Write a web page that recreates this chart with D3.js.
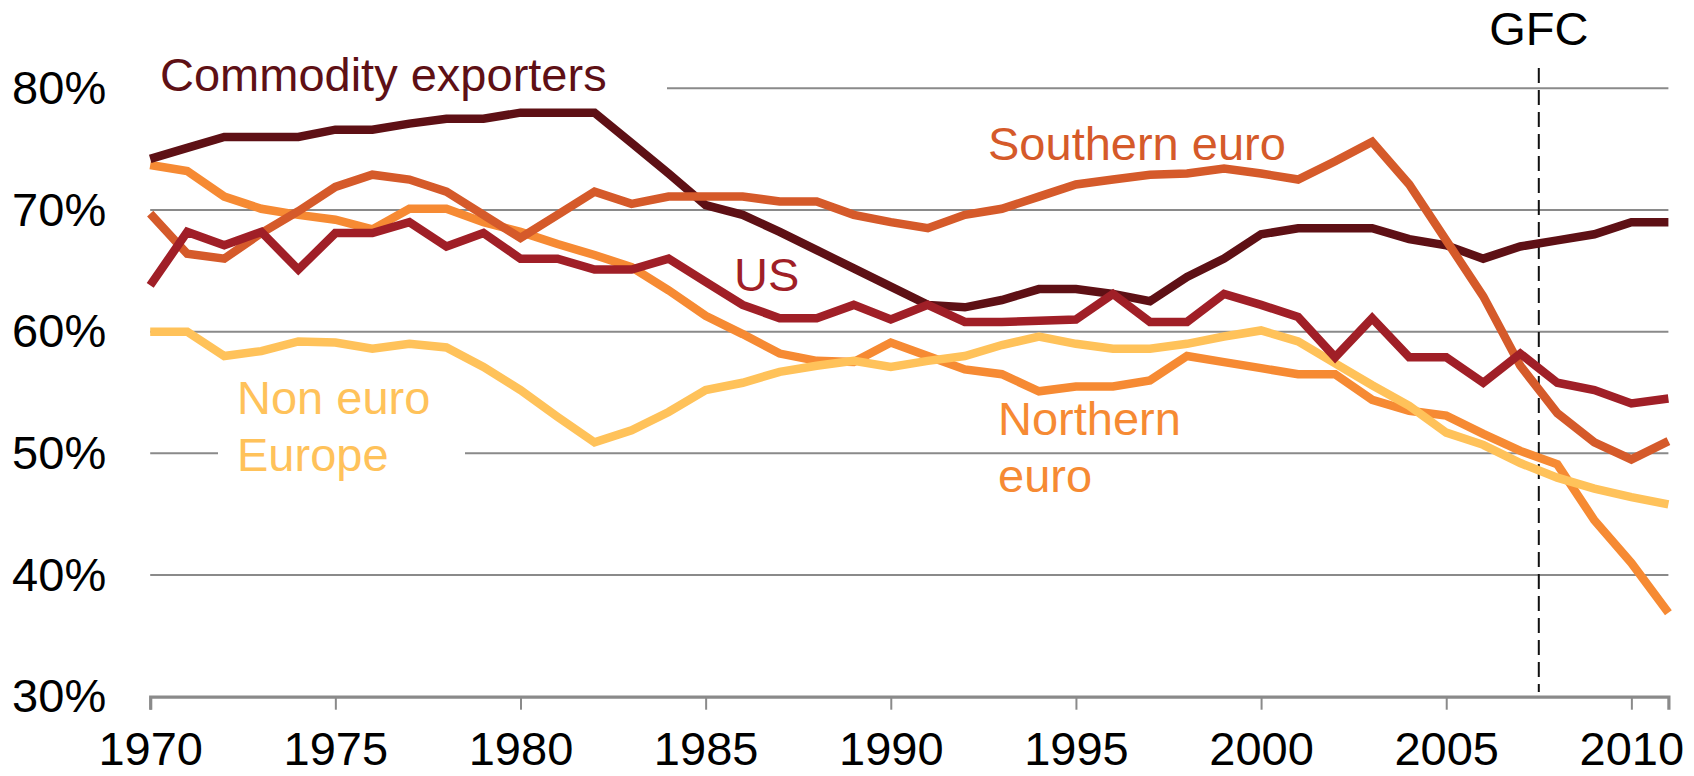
<!DOCTYPE html>
<html>
<head>
<meta charset="utf-8">
<script src="https://cdn.jsdelivr.net/npm/d3@7"></script>
<style>
  html, body { margin: 0; padding: 0; background: #ffffff; }
  svg { display: block; font-family: "Liberation Sans", Arial, sans-serif; }
</style>
</head>
<body>
<svg id="chart" width="1694" height="776"></svg>
<script>
const years = d3.range(1970, 2012);
const yTicks = [30, 40, 50, 60, 70, 80];
const xTicks = [1970, 1975, 1980, 1985, 1990, 1995, 2000, 2005, 2010];

const commodityExporters = [74.2,75.1,76.0,76.0,76.0,76.6,76.6,77.1,77.5,77.5,78.0,78.0,78.0,
  75.5,73.0,70.4,69.6,68.2,66.7,65.2,63.7,62.2,62.0,62.6,63.5,63.5,63.1,62.5,
  64.5,66.0,68.0,68.5,68.5,68.5,67.6,67.1,66.0,67.0,67.5,68.0,69.0,69.0];
const southernEuro = [69.7,66.4,66.0,68.1,69.9,71.9,72.9,72.5,71.5,69.6,67.7,69.6,71.5,
  70.5,71.1,71.1,71.1,70.7,70.7,69.6,69.0,68.5,69.6,70.1,71.1,72.1,72.5,72.9,
  73.0,73.4,73.0,72.5,74.0,75.6,72.1,67.5,62.9,57.2,53.3,50.9,49.5,51.0];
const us = [63.8,68.2,67.1,68.2,65.1,68.1,68.1,69.0,67.0,68.1,66.0,66.0,65.1,
  65.1,66.0,64.1,62.2,61.1,61.1,62.2,61.0,62.2,60.8,60.8,60.9,61.0,63.1,60.8,
  60.8,63.1,62.2,61.2,57.9,61.1,57.9,57.9,55.8,58.2,55.8,55.2,54.1,54.5];
const northernEuro = [73.7,73.2,71.1,70.1,69.6,69.2,68.4,70.1,70.1,69.0,68.2,67.2,66.3,
  65.3,63.4,61.3,59.8,58.2,57.6,57.5,59.1,58.0,56.9,56.5,55.1,55.5,55.5,56.0,
  58.0,57.5,57.0,56.5,56.5,54.4,53.5,53.1,51.6,50.2,49.1,44.5,41.0,36.9];
const nonEuroEurope = [60.0,60.0,58.0,58.4,59.2,59.1,58.6,59.0,58.7,57.1,55.2,53.0,50.9,
  51.9,53.4,55.2,55.8,56.7,57.2,57.6,57.1,57.6,58.0,58.9,59.6,59.0,58.6,58.6,
  59.0,59.6,60.1,59.2,57.4,55.6,53.9,51.7,50.7,49.2,48.0,47.1,46.4,45.8];
const gfcYear = 2007.5;

// drawing order bottom -> top
const series = [
  { name: "Northern euro", values: northernEuro, color: "#f68a33" },
  { name: "Non euro Europe", values: nonEuroEurope, color: "#ffc25a" },
  { name: "Commodity exporters", values: commodityExporters, color: "#5e1015" },
  { name: "Southern euro", values: southernEuro, color: "#d55a2a" },
  { name: "US", values: us, color: "#a01f27" }
];

const svg = d3.select("#chart");
const FS = 47;
const x = d3.scaleLinear().domain([1970, 2011]).range([150.2, 1668.4]);
const y = d3.scaleLinear().domain([30, 80]).range([696.7, 88.3]);

// gridlines
svg.append("g").selectAll("line")
  .data(yTicks.filter(d => d > 30))
  .join("line")
  .attr("x1", x(1970)).attr("x2", x(2011))
  .attr("y1", d => y(d)).attr("y2", d => y(d))
  .attr("stroke", "#8a8a8a").attr("stroke-width", 2);

// white label boxes (interrupt gridlines)
svg.append("rect").attr("x", 150).attr("y", 40).attr("width", 517).attr("height", 68).attr("fill", "#fff");
svg.append("rect").attr("x", 218).attr("y", 372).attr("width", 247).attr("height", 113).attr("fill", "#fff");

// x axis
const xAxis = d3.axisBottom(x).tickValues(xTicks).tickFormat(d3.format("d"))
  .tickSize(13).tickPadding(22);
const gx = svg.append("g").attr("transform", `translate(0,${y(30)})`).call(xAxis);
gx.select(".domain").attr("stroke", "#8a8a8a").attr("stroke-width", 3.2);
gx.selectAll(".tick line").attr("stroke", "#8a8a8a").attr("stroke-width", 2);
gx.selectAll(".tick text").attr("fill", "#000").style("font-size", FS + "px")
  .style("font-family", "'Liberation Sans', Arial, sans-serif");

// y axis labels
const yAxis = d3.axisLeft(y).tickValues(yTicks).tickFormat(d => d + "%")
  .tickSize(0).tickPadding(44);
const gy = svg.append("g").attr("transform", `translate(${x(1970)},0)`).call(yAxis);
gy.select(".domain").remove();
gy.selectAll(".tick text").attr("fill", "#000").style("font-size", FS + "px")
  .style("font-family", "'Liberation Sans', Arial, sans-serif");

// GFC dashed line
svg.append("line")
  .attr("x1", x(gfcYear)).attr("x2", x(gfcYear))
  .attr("y1", 68).attr("y2", 692)
  .attr("stroke", "#111").attr("stroke-width", 2)
  .attr("stroke-dasharray", "15,7");

// series lines
const line = d3.line().x((d, i) => x(years[i])).y(d => y(d));
svg.append("g").selectAll("path")
  .data(series)
  .join("path")
  .attr("d", d => line(d.values))
  .attr("fill", "none")
  .attr("stroke", d => d.color)
  .attr("stroke-width", 8.5)
  .attr("stroke-linejoin", "miter");

// labels
const labels = [
  { lines: ["Commodity exporters"], x: 160, y: 91, color: "#5e1015" },
  { lines: ["Southern euro"], x: 988, y: 160, color: "#d55a2a" },
  { lines: ["US"], x: 734, y: 291, color: "#a01f27" },
  { lines: ["Northern", "euro"], x: 998, y: 435, color: "#f68a33" },
  { lines: ["Non euro", "Europe"], x: 237, y: 414, color: "#ffc25a" }
];
labels.forEach(l => {
  const t = svg.append("text").attr("x", l.x).attr("y", l.y)
    .attr("fill", l.color).style("font-size", FS + "px");
  l.lines.forEach((s, i) => {
    t.append("tspan").attr("x", l.x).attr("dy", i === 0 ? 0 : 57).text(s);
  });
});

svg.append("text").attr("x", x(gfcYear)).attr("y", 45)
  .attr("text-anchor", "middle").attr("fill", "#000")
  .style("font-size", FS + "px").text("GFC");
</script>
</body>
</html>
